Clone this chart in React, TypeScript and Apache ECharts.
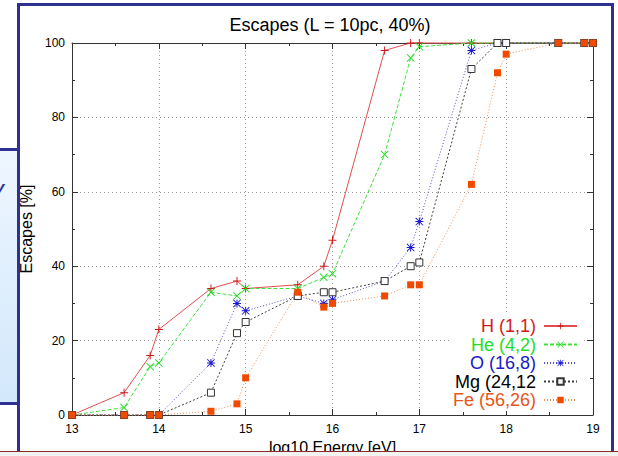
import React, { useEffect, useRef } from "react";
import * as echarts from "echarts";

// log10 Energy [eV]
const energies = [13, 13.6, 13.9, 14, 14.6, 14.9, 15, 15.6, 15.9, 16, 16.6, 16.9, 17, 17.6, 17.9, 18, 18.6, 18.9, 19];

// Escapes [%]
const hValues = [0, 6, 16, 23, 34, 36, 34, 35, 40, 47, 98, 100, 100, 100, 100, 100, 100, 100, 100];
const heValues = [0, 2, 13, 14, 33, 32, 34, 34, 37, 38, 70, 96, 99, 100, 100, 100, 100, 100, 100];
const oValues = [0, 0, 0, 0, 14, 30, 28, 32, 30, 31, 36, 45, 52, 98, 100, 100, 100, 100, 100];
const mgValues = [0, 0, 0, 0, 6, 22, 25, 32, 33, 33, 36, 40, 41, 93, 100, 100, 100, 100, 100];
const feValues = [0, 0, 0, 0, 1, 3, 10, 33, 29, 30, 32, 35, 35, 62, 92, 97, 100, 100, 100];

const seriesNames = ["H (1,1)", "He (4,2)", "O (16,8)", "Mg (24,12", "Fe (56,26)"];
const xTicks = { min: 13, max: 19, interval: 1 };
const yTicks = { min: 0, max: 100, interval: 20 };

const FONT = "'Liberation Sans', Arial, Helvetica, sans-serif";

const plusPath = "path://M4.4,0H5.6V4.4H10V5.6H5.6V10H4.4V5.6H0V4.4H4.4Z";
const crossPath = "path://M0.8,0L5,4.2L9.2,0L10,0.8L5.8,5L10,9.2L9.2,10L5,5.8L0.8,10L0,9.2L4.2,5L0,0.8Z";
const starPath =
  "path://M4.4,0H5.6V4.4H10V5.6H5.6V10H4.4V5.6H0V4.4H4.4Z M0.8,0L5,4.2L9.2,0L10,0.8L5.8,5L10,9.2L9.2,10L5,5.8L0.8,10L0,9.2L4.2,5L0,0.8Z";

const pair = (vals: number[]) => energies.map((e, i) => [e, vals[i]]);

const axisColor = "#333";

function buildOption() {
  const baseX = {
    type: "value" as const,
    min: xTicks.min,
    max: xTicks.max,
    interval: xTicks.interval,
    axisLine: { show: true, onZero: false, lineStyle: { color: axisColor, width: 1 } },
    axisTick: { show: true, inside: true, length: 6, lineStyle: { color: axisColor } },
    minorTick: { show: true, splitNumber: 2, length: 3, lineStyle: { color: axisColor } },
  };
  const baseY = {
    type: "value" as const,
    min: yTicks.min,
    max: yTicks.max,
    interval: yTicks.interval,
    axisLine: { show: true, onZero: false, lineStyle: { color: axisColor, width: 1 } },
    axisTick: { show: true, inside: true, length: 6, lineStyle: { color: axisColor } },
    minorTick: { show: true, splitNumber: 2, length: 3, lineStyle: { color: axisColor } },
  };
  return {
    animation: false,
    backgroundColor: "#ffffff",
    title: {
      text: "Escapes (L = 10pc, 40%)",
      left: 325,
      textAlign: "center",
      top: 11,
      textStyle: { fontSize: 18, fontWeight: "normal", color: "#000", fontFamily: FONT },
    },
    grid: {
      show: false,
      left: 72,
      right: 25,
      top: 43,
      bottom: 41,
      containLabel: false,
      outerBoundsMode: "none",
    },
    xAxis: [
      {
        ...baseX,
        position: "bottom",
        axisLabel: { color: "#000", fontSize: 12, fontFamily: FONT, margin: 8 },
        splitLine: { show: true, lineStyle: { color: "#9a9a9a", type: [1, 3], width: 1 } },
        name: "log10 Energy [eV]",
        nameLocation: "middle",
        nameGap: 23,
        nameTextStyle: { fontSize: 16, color: "#000", fontFamily: FONT },
      },
      {
        ...baseX,
        position: "top",
        axisLabel: { show: false },
        splitLine: { show: false },
      },
    ],
    yAxis: [
      {
        ...baseY,
        position: "left",
        axisLabel: { color: "#000", fontSize: 12, fontFamily: FONT, margin: 7 },
        splitLine: { show: true, lineStyle: { color: "#9a9a9a", type: [1, 3], width: 1 } },
        name: "Escapes [%]",
        nameLocation: "middle",
        nameGap: 29,
        nameTextStyle: { fontSize: 16, color: "#000", fontFamily: FONT },
      },
      {
        ...baseY,
        position: "right",
        axisLabel: { show: false },
        splitLine: { show: false },
      },
    ],
    legend: {
      orient: "vertical",
      right: 36,
      top: 315,
      align: "right",
      itemWidth: 33,
      itemHeight: 8,
      itemGap: 0.5,
      backgroundColor: "#ffffff",
      padding: [2, 4, 2, 4],
      textStyle: { fontSize: 18, fontFamily: FONT, lineHeight: 15, padding: [0, 3, 0, 0] },
      data: [
        { name: seriesNames[0], textStyle: { color: "#d11a1a" } },
        { name: seriesNames[1], textStyle: { color: "#22dd22" } },
        { name: seriesNames[2], textStyle: { color: "#1a1ac8" } },
        { name: seriesNames[3], textStyle: { color: "#000000" } },
        { name: seriesNames[4], textStyle: { color: "#e8541a" } },
      ],
    },
    series: [
      {
        name: seriesNames[0],
        type: "line",
        data: pair(hValues),
        symbol: plusPath,
        symbolSize: 8,
        clip: false,
        itemStyle: { color: "#d01818" },
        lineStyle: { color: "#e05050", width: 1, type: "solid" },
      },
      {
        name: seriesNames[1],
        type: "line",
        data: pair(heValues),
        symbol: crossPath,
        symbolSize: 8,
        clip: false,
        itemStyle: { color: "#22dd22" },
        lineStyle: { color: "#40e040", width: 1, type: [4, 2] },
      },
      {
        name: seriesNames[2],
        type: "line",
        data: pair(oValues),
        symbol: starPath,
        symbolSize: 8,
        clip: false,
        itemStyle: { color: "#1a1ad0" },
        lineStyle: { color: "#5050c8", width: 1, type: [1, 2] },
      },
      {
        name: seriesNames[3],
        type: "line",
        data: pair(mgValues),
        symbol: "rect",
        symbolSize: 7,
        clip: false,
        itemStyle: { color: "#ffffff", borderColor: "#333333", borderWidth: 1 },
        lineStyle: { color: "#404040", width: 1, type: [2, 2] },
      },
      {
        name: seriesNames[4],
        type: "line",
        data: pair(feValues),
        symbol: "rect",
        symbolSize: 7,
        clip: false,
        itemStyle: { color: "#f04a00" },
        lineStyle: { color: "#f09050", width: 1, type: [1, 2] },
      },
    ],
    graphic: [
      {
        type: "rect",
        z: 0,
        silent: true,
        shape: { x: -5, y: 149.5, width: 23.5, height: 254 },
        style: {
          fill: new echarts.graphic.LinearGradient(0, 0, 0, 1, [
            { offset: 0, color: "#eef6ff" },
            { offset: 1, color: "#d2e8fb" },
          ]),
          stroke: "#2e3192",
          lineWidth: 3,
        },
      },
      {
        type: "text",
        z: 1,
        silent: true,
        x: -5,
        y: 179,
        style: { text: "y", fontSize: 17, fontWeight: "bold", fontStyle: "italic", fill: "#2e3192", fontFamily: FONT },
      },
      {
        type: "rect",
        z: 1,
        silent: true,
        shape: { x: 18.5, y: 4.5, width: 594, height: 470 },
        style: { fill: "none", stroke: "#2e3192", lineWidth: 3 },
      },
      {
        type: "rect",
        z: 100,
        silent: true,
        shape: { x: 0, y: 451, width: 618, height: 6 },
        style: { fill: "#f2f2f2", stroke: "none" },
      },
      {
        type: "line",
        z: 101,
        silent: true,
        shape: { x1: 0, y1: 451.5, x2: 618, y2: 451.5 },
        style: { stroke: "#8b2a2a", lineWidth: 1 },
      },
    ],
  };
}

export default function App() {
  const ref = useRef<HTMLDivElement>(null);
  useEffect(() => {
    if (!ref.current) return;
    const chart = echarts.init(ref.current, null, { renderer: "svg" });
    chart.setOption(buildOption() as any);
    return () => chart.dispose();
  }, []);
  return (
    <div
      ref={ref}
      style={{ position: "fixed", left: 0, top: 0, width: 618, height: 456, background: "#fff" }}
    />
  );
}
